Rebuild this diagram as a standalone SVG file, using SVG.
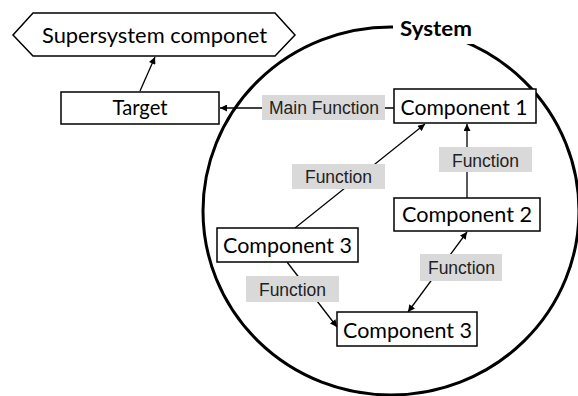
<svg xmlns="http://www.w3.org/2000/svg" width="578" height="396" viewBox="0 0 578 396">
<defs>
<marker id="ah" viewBox="0 0 10 10" refX="10" refY="5" markerWidth="8" markerHeight="7" markerUnits="userSpaceOnUse" orient="auto-start-reverse">
<path d="M0,0 L10,5 L0,10 z" fill="#000"/>
</marker>
<style>
.box{fill:#fff;stroke:#000;stroke-width:1.5}
.t{font-family:Lato,"Liberation Sans",sans-serif;font-size:21px;fill:#000;text-anchor:middle}
.lb{fill:#d9d9d9}
.lt{font-family:"Liberation Sans",Arial,sans-serif;font-size:17.5px;fill:#222;text-anchor:middle}
.c{stroke:#000;stroke-width:1.3;fill:none}
</style>
</defs>
<rect width="578" height="396" fill="#fff"/>
<g id="system">
<ellipse cx="391" cy="211" rx="188" ry="184" fill="none" stroke="#000" stroke-width="3"/>
<rect x="393" y="12" width="87" height="32" fill="#fff"/>
<text x="436" y="36" font-family="Lato,'Liberation Sans',sans-serif" font-size="21" font-weight="bold" text-anchor="middle" textLength="72" lengthAdjust="spacingAndGlyphs">System</text>
</g>
<g id="connectors">
<line class="c" x1="140" y1="91" x2="155" y2="57" marker-end="url(#ah)"/>
<line class="c" x1="394" y1="108" x2="220" y2="108" marker-end="url(#ah)"/>
<line class="c" x1="467" y1="198" x2="467" y2="124" marker-end="url(#ah)"/>
<line class="c" x1="295" y1="228" x2="425" y2="124" marker-end="url(#ah)"/>
<line class="c" x1="287" y1="262" x2="337" y2="327" marker-end="url(#ah)"/>
<line class="c" x1="408" y1="312" x2="467" y2="232" marker-start="url(#ah)" marker-end="url(#ah)"/>
</g>
<g id="labels">
<g id="lbl-main"><rect class="lb" x="262" y="95" width="123" height="25"/><text class="lt" x="324" y="114" textLength="110" lengthAdjust="spacingAndGlyphs">Main Function</text></g>
<g id="lbl-f1"><rect class="lb" x="439" y="147" width="93" height="25"/><text class="lt" x="485.5" y="167">Function</text></g>
<g id="lbl-f2"><rect class="lb" x="292" y="164" width="93" height="25"/><text class="lt" x="338.5" y="183">Function</text></g>
<g id="lbl-f3"><rect class="lb" x="246" y="276" width="93" height="26"/><text class="lt" x="292.5" y="296">Function</text></g>
<g id="lbl-f4"><rect class="lb" x="420" y="254" width="82" height="27"/><text class="lt" x="461.5" y="274">Function</text></g>
</g>
<g id="supersystem">
<polygon class="box" points="13,35 33,13 275,13 295,35 275,56 33,56"/>
<text class="t" x="154.5" y="43" textLength="225" lengthAdjust="spacingAndGlyphs">Supersystem componet</text>
</g>
<g id="target">
<rect class="box" x="61" y="92" width="158" height="32"/>
<text class="t" x="140" y="115" textLength="55" lengthAdjust="spacingAndGlyphs">Target</text>
</g>
<g id="component1">
<rect class="box" x="394" y="89" width="142" height="34"/>
<text class="t" x="464" y="115" textLength="127" lengthAdjust="spacingAndGlyphs">Component 1</text>
</g>
<g id="component2">
<rect class="box" x="394" y="198" width="146" height="33"/>
<text class="t" x="467" y="222" textLength="130" lengthAdjust="spacingAndGlyphs">Component 2</text>
</g>
<g id="component3a">
<rect class="box" x="217" y="228" width="141" height="34"/>
<text class="t" x="287.5" y="253" textLength="129" lengthAdjust="spacingAndGlyphs">Component 3</text>
</g>
<g id="component3b">
<rect class="box" x="337" y="312" width="140" height="34"/>
<text class="t" x="407.5" y="338" textLength="129" lengthAdjust="spacingAndGlyphs">Component 3</text>
</g>
</svg>
